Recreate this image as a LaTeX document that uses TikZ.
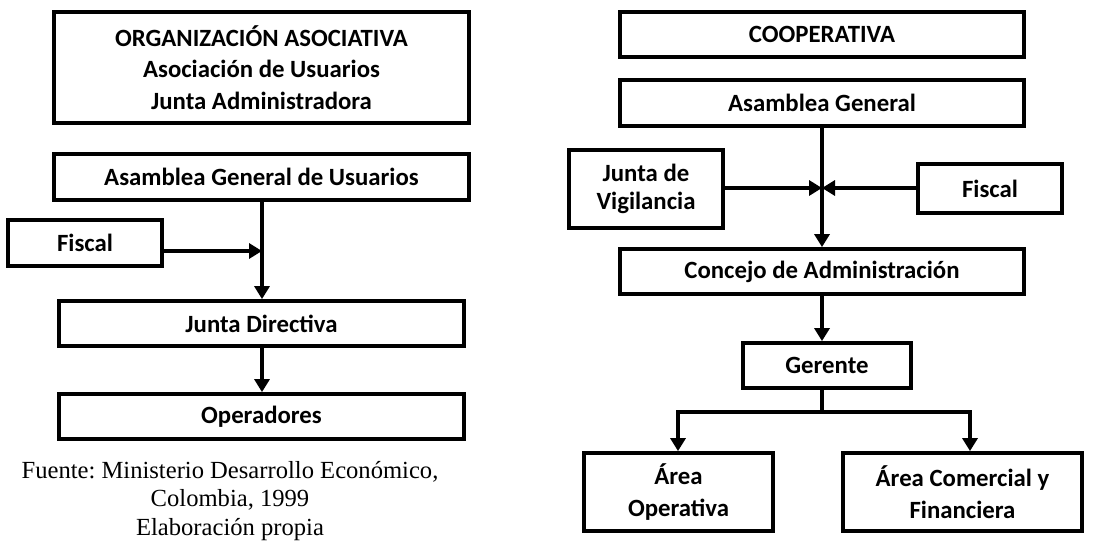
\documentclass[tikz,border=0pt]{standalone}
\usepackage{fontspec}
\setmainfont{Liberation Serif}
\newfontfamily\carlito{Carlito}
\usetikzlibrary{arrows.meta}
\frenchspacing
\begin{document}
\begin{tikzpicture}[x=1pt,y=-1pt,
  box/.style={draw, line width=3.8pt, inner sep=0pt, align=center,
    font=\carlito\bfseries\fontsize{24.8}{31.5}\selectfont},
  arr/.style={line width=3.3pt, -{Triangle[length=13pt,width=15pt]}},
  ln/.style={line width=3.3pt}]
\useasboundingbox (0,0) rectangle (1119,543);
% left
\node[box, minimum width=415pt, minimum height=111pt] (top) at (261.5,67.5)
  {ORGANIZACIÓN ASOCIATIVA\\Asociación de Usuarios\\Junta Administradora};
\node[box, minimum width=415pt, minimum height=46pt] (agu) at (261.5,177) {Asamblea General de Usuarios};
\node[box, minimum width=154pt, minimum height=46pt] (fiscalL) at (85,243) {Fiscal};
\node[box, minimum width=405pt, minimum height=45pt] (jd) at (261.5,323.5) {Junta Directiva};
\node[box, minimum width=405pt, minimum height=45pt] (op) at (261.5,416.5) {Operadores};
\coordinate (jl) at (262,251);
\draw[arr] (agu.south -| jl) -- (jd.north -| jl);
\draw[arr] (fiscalL.east |- jl) -- (jl);
\draw[arr] (jd.south -| jl) -- (op.north -| jl);
\node[align=center, font=\fontsize{24.6}{28.6}\selectfont] (src) at (230,501)
  {Fuente: Ministerio Desarrollo Económico,\\Colombia, 1999\\Elaboración propia};
% right
\node[box, minimum width=404pt, minimum height=45pt] (coop) at (822,34.5) {COOPERATIVA};
\node[box, minimum width=404pt, minimum height=46pt] (ag) at (822,103) {Asamblea General};
\node[box, minimum width=154pt, minimum height=78pt,
  font=\carlito\bfseries\fontsize{24.8}{28.5}\selectfont] (jv) at (646,189) {Junta de\\Vigilancia};
\node[box, minimum width=144pt, minimum height=49pt] (fiscalR) at (990,188.5) {Fiscal};
\node[box, minimum width=404pt, minimum height=45pt] (ca) at (822,271.5) {Concejo de Administración};
\node[box, minimum width=168pt, minimum height=45pt] (ger) at (827,365.5) {Gerente};
\node[box, minimum width=189pt, minimum height=78pt] (ao) at (678.5,492) {Área\\Operativa};
\node[box, minimum width=239pt, minimum height=78pt] (ac) at (962.5,492) {Área Comercial y\\Financiera};
\coordinate (jr) at (822,188);
\coordinate (br) at (822,412);
\coordinate (bl) at (678,412);
\coordinate (brr) at (970,412);
\draw[arr] (ag.south -| jr) -- (ca.north -| jr);
\draw[arr] (jv.east |- jr) -- (jr);
\draw[arr] (fiscalR.west |- jr) -- (jr);
\draw[arr] (ca.south -| jr) -- (ger.north -| jr);
\draw[ln] (ger.south -| br) -- (br);
\draw[arr] (bl) -- (ao.north -| bl);
\draw[arr] (brr) -- (ac.north -| brr);
\draw[ln, line cap=rect] (bl) -- (brr);
\end{tikzpicture}
\end{document}
